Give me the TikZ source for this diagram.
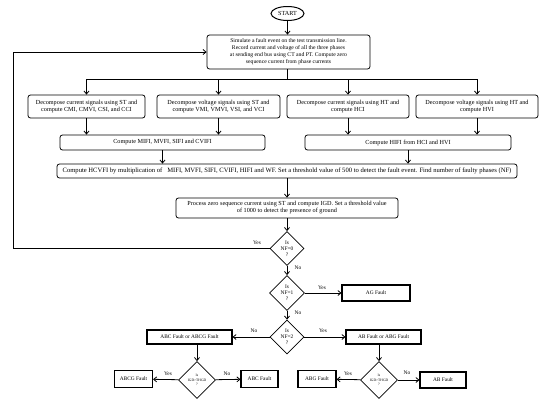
\documentclass[tikz,border=0pt]{standalone}
\usepackage{fontspec}
\setmainfont{Liberation Serif}
\usetikzlibrary{shapes.geometric,arrows.meta}

\newcommand\txtmain{\fontsize{6.2}{7}\selectfont}
\newcommand\txtsim{\fontsize{5.7}{7}\selectfont}
\newcommand\txtwide{\fontsize{6.6}{7}\selectfont}
\newcommand\txtsmall{\fontsize{5.4}{6}\selectfont}
\newcommand\txttiny{\fontsize{3.6}{4.4}\selectfont}

\begin{document}
\begin{tikzpicture}[
    x=1pt, y=-1pt,
    proc/.style={draw, rounded corners=2.5pt, line width=0.8pt, align=center,
                 inner sep=1pt, font=\txtmain},
    fault/.style={draw, line width=1.1pt, align=center, inner sep=1pt,
                  minimum height=16pt, font=\txtsmall},
    decide/.style={diamond, draw, line width=0.8pt, aspect=1, inner sep=0pt,
                   align=center, minimum width=#1, minimum height=#1, font=\txtsmall},
    arr/.style={line width=0.8pt, -{Straight Barb[length=3pt,width=5pt]}},
    lbl/.style={font=\txtsmall, inner sep=0pt}
]
\useasboundingbox (0,0) rectangle (550,407);

% ================= top =================

\node[ellipse, draw, line width=1pt, minimum width=33pt, minimum height=14pt,
      inner sep=0pt, font=\txtmain] (start) at (287.5,13.5) {START};

\node[proc, font=\txtsim, minimum width=163pt, minimum height=34pt] (sim) at (288.5,52)
  {Simulate a fault event on the test transmission line.\\
   Record current and voltage of all the three phases\\
   at sending end bus using CT and PT. Compute zero\\
   sequence current from phase currents};

\draw[arr] (start) -- (start |- sim.north);

% ================= decomposition =================

\node[proc, minimum width=117pt, minimum height=23pt] (stI) at (86.5,106.5)
  {Decompose current signals using ST and\\ compute CMI, CMVI, CSI, and CCI};
\node[proc, minimum width=123pt, minimum height=23pt] (stV) at (218.5,106.5)
  {Decompose voltage signals using ST and\\ compute VMI, VMVI, VSI, and VCI};
\node[proc, minimum width=122pt, minimum height=23pt] (htI) at (348,106.5)
  {Decompose current signals using HT and\\ compute HCI};
\node[proc, minimum width=122pt, minimum height=23pt] (htV) at (477,106.5)
  {Decompose voltage signals using HT and\\ compute HVI};

\coordinate (bus) at (287.5,79);
\draw[line width=0.8pt] (sim.south -| bus) -- (bus);
\draw[line width=0.8pt] (stI |- bus) -- (htV |- bus);
\draw[arr] (stI |- bus) -- (stI);
\draw[arr] (stV |- bus) -- (stV);
\draw[arr] (htI |- bus) -- (htI);
\draw[arr] (htV |- bus) -- (htV);

% ================= indices =================

\node[proc, minimum width=205pt, minimum height=15pt] (stF) at (162.5,142.5)
  {Compute MIFI, MVFI, SIFI and CVIFI};
\node[proc, minimum width=206pt, minimum height=15pt] (htF) at (408,142.5)
  {Compute HIFI from HCI and HVI};

\draw[arr] (stI) -- (stI |- stF.north);
\draw[arr] (stV) -- (stV |- stF.north);
\draw[arr] (htI) -- (htI |- htF.north);
\draw[arr] (htV) -- (htV |- htF.north);

\node[proc, font=\txtwide, minimum width=460pt, minimum height=14pt] (hcvfi) at (287,171)
  {Compute HCVFI by multiplication of \ \ MIFI, MVFI, SIFI, CVIFI, HIFI and WF. Set a threshold value of 500 to detect the fault event. Find number of faulty phases (NF)};

\draw[arr] (stF) -- (stF |- hcvfi.north);
\draw[arr] (htF) -- (htF |- hcvfi.north);

\node[proc, minimum width=222pt, minimum height=20pt] (igd) at (287,208)
  {Process zero sequence current using ST and compute IGD. Set a threshold value\\
   of 1000 to detect the presence of ground};

\draw[arr] (hcvfi) -- (igd);

% ================= decisions =================

\node[decide=34pt] (nf0) at (287,248.5) {Is\\NF=0\\?};
\node[decide=35pt] (nf1) at (287,293) {Is\\NF=1\\?};
\node[decide=34pt] (nf2) at (287,337) {Is\\NF=2\\?};

\draw[arr] (igd) -- (nf0);
\draw[arr] (nf0) -- (nf1);
\draw[arr] (nf1) -- (nf2);

\coordinate (loop) at (13,0);
\draw[arr] (nf0.west) -- (nf0.west -| loop) |- (sim.west);

\node[lbl] at (257,243) {Yes};
\node[lbl] at (298,268) {No};
\node[lbl] at (298,313) {No};

\node[fault, minimum width=68pt] (ag) at (376,293) {AG Fault};
\draw[arr] (nf1) -- (ag);
\node[lbl] at (322,288) {Yes};

\node[fault, minimum width=85pt, minimum height=14pt] (abcx) at (189.5,337) {ABC Fault or ABCG Fault};
\node[fault, minimum width=75pt, minimum height=14pt] (abx) at (383.5,337) {AB Fault or ABG Fault};
\draw[arr] (nf2) -- (abcx);
\draw[arr] (nf2) -- (abx);
\node[lbl] at (254,331) {No};
\node[lbl] at (323,331) {Yes};

% ================= ground check =================

\node[decide=37pt, font=\txttiny] (gnd1) at (197,380) {Is\\IGD>THGD\\?};
\node[decide=37pt, font=\txttiny] (gnd2) at (379,380) {Is\\IGD>THGD\\?};

\draw[arr] (gnd1 |- abcx.south) -- (gnd1);
\draw[arr] (gnd2 |- abx.south) -- (gnd2);

\node[fault, minimum width=38pt, minimum height=17pt] (abcg) at (133.5,379) {ABCG Fault};
\node[fault, minimum width=37pt, minimum height=17pt] (abc) at (259.5,379) {ABC Fault};
\node[fault, minimum width=38pt, minimum height=17pt] (abg) at (317,379) {ABG Fault};
\node[fault, minimum width=46pt, minimum height=16pt] (ab) at (443,380) {AB Fault};

\draw[arr] (gnd1) -- (abcg);
\draw[arr] (gnd1) -- (abc);
\draw[arr] (gnd2) -- (abg);
\draw[arr] (gnd2) -- (ab);

\node[lbl] at (168,374) {Yes};
\node[lbl] at (227,374) {No};
\node[lbl] at (348,374) {Yes};
\node[lbl] at (407,373) {No};

\end{tikzpicture}
\end{document}
